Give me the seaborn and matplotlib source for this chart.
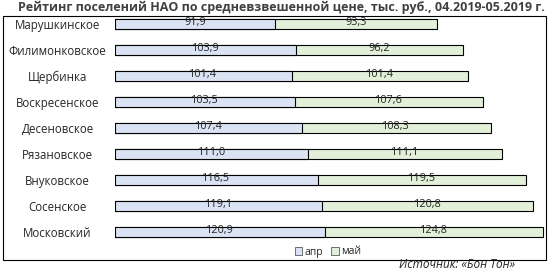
import matplotlib
matplotlib.use("Agg")
import matplotlib.pyplot as plt
import seaborn as sns
import pandas as pd
from matplotlib.patches import Rectangle, Patch

settlements = ["Марушкинское", "Филимонковское", "Щербинка", "Воскресенское",
               "Десеновское", "Рязановское", "Внуковское", "Сосенское", "Московский"]
apr = [91.9, 103.9, 101.4, 103.5, 107.4, 111.0, 116.5, 119.1, 120.9]
may = [93.3, 96.2, 101.4, 107.6, 108.3, 111.1, 119.5, 120.8, 124.8]
series_names = ["апр", "май"]
title = "Рейтинг поселений НАО по средневзвешенной цене, тыс. руб., 04.2019-05.2019 г."
source = "Источник: «Бон Тон»"

c_apr = "#dae3f3"
c_may = "#e2f0d9"

sns.set_theme(style="white")
plt.rcParams["font.family"] = ["Open Sans", "DejaVu Sans"]

df = pd.DataFrame({"name": settlements, "apr": apr, "may": may})
df["total"] = df["apr"] + df["may"]

W, H = 549, 272
fig = plt.figure(figsize=(W / 100, H / 100), dpi=100)

# outer frame
fig.patches.append(Rectangle((3 / W, 1 - 260 / H), 543 / W, 244 / H, transform=fig.transFigure,
                             fill=False, edgecolor="black", linewidth=0.8))

ax_left, ax_right = 115, 546
ax_top, ax_bot = 11, 245
ax = fig.add_axes([ax_left / W, 1 - ax_bot / H, (ax_right - ax_left) / W, (ax_bot - ax_top) / H])

sns.barplot(data=df, y="name", x="total", color=c_may, edgecolor="black", linewidth=0.8,
            width=0.4, orient="h", ax=ax, saturation=1)
sns.barplot(data=df, y="name", x="apr", color=c_apr, edgecolor="black", linewidth=0.8,
            width=0.4, orient="h", ax=ax, saturation=1)

ax.set_xlim(0, (ax_right - ax_left) / 1.741)
ax.set_ylim(8.5, -0.5)
ax.set_xlabel("")
ax.set_ylabel("")
ax.set_xticks([])
for s in ax.spines.values():
    s.set_visible(False)
ax.tick_params(axis="y", length=0, pad=(ax_left - 57.5) * 0.72, labelsize=8.3)
for t in ax.get_yticklabels():
    t.set_horizontalalignment("center")

fmt = lambda v: f"{v:.1f}".replace(".", ",")
for i, (a, m) in enumerate(zip(apr, may)):
    ax.text(a / 2, i - 0.04, fmt(a), ha="center", va="center", fontsize=7.8)
    ax.text(a + m / 2, i - 0.04, fmt(m), ha="center", va="center", fontsize=7.8)

fig.text(281 / W, 1 - 7 / H, title, ha="center", va="center", fontsize=9, fontweight="bold",
         color="#404040")

handles = [Patch(facecolor=c_apr, edgecolor="#595959", linewidth=0.6),
           Patch(facecolor=c_may, edgecolor="#595959", linewidth=0.6)]
fig.legend(handles, series_names, loc="center", bbox_to_anchor=(328 / W, 1 - 252 / H),
           ncol=2, frameon=False, fontsize=7.5, handlelength=0.7, handleheight=0.7,
           handletextpad=0.2, columnspacing=0.8, borderpad=0)

fig.text(515 / W, 1 - 264 / H, source, ha="right", va="center", fontsize=8.5, style="italic")

fig.savefig("out.png", dpi=100)
